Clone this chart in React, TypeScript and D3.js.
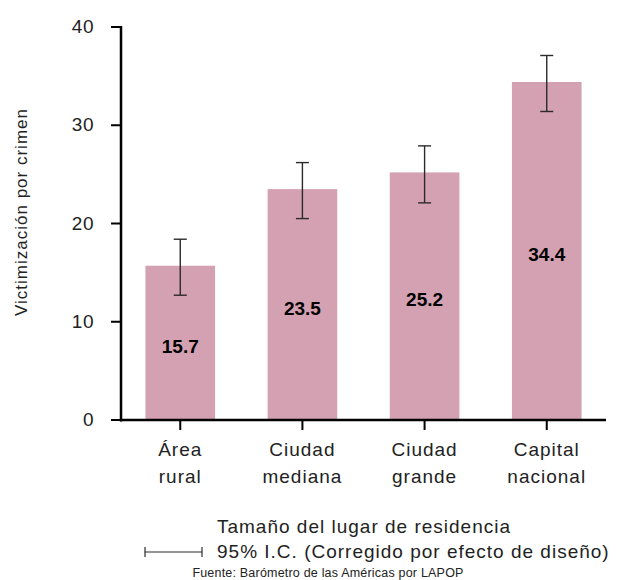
import React from "react";
import * as d3 from "d3";

const categories: string[][] = [
  ["Área", "rural"],
  ["Ciudad", "mediana"],
  ["Ciudad", "grande"],
  ["Capital", "nacional"],
];
const values: number[] = [15.7, 23.5, 25.2, 34.4];
const ciLow: number[] = [12.7, 20.5, 22.1, 31.4];
const ciHigh: number[] = [18.4, 26.2, 27.9, 37.1];
const yTicks: number[] = [0, 10, 20, 30, 40];

const W = 619;
const H = 580;
const FONT = "'Liberation Sans', Arial, Helvetica, sans-serif";

export default function App() {
  const left = 121;
  const right = 606;
  const top = 27;
  const bottom = 420;
  const ids = categories.map((_, i) => String(i));
  const x = d3.scaleBand<string>().domain(ids).range([left, right]).paddingInner(0.43).paddingOuter(0.2);
  const y = d3.scaleLinear().domain([0, 40]).range([bottom, top]);
  const bw = x.bandwidth();
  const cap = 6.5;

  return (
    <div style={{ position: "absolute", left: 0, top: 0 }}>
      <svg width={W} height={H} style={{ display: "block", fontFamily: FONT }}>
        <rect x={0} y={0} width={W} height={H} fill="#ffffff" />
        {/* bars */}
        {values.map((v, i) => (
          <rect key={"b" + i} x={x(ids[i])!} y={y(v)} width={bw} height={y(0) - y(v)} fill="#d3a1b1" />
        ))}
        {/* error bars */}
        {values.map((v, i) => {
          const cx = x(ids[i])! + bw / 2;
          return (
            <g key={"e" + i} stroke="#2b2b2b" strokeWidth={1.4}>
              <line x1={cx} x2={cx} y1={y(ciLow[i])} y2={y(ciHigh[i])} />
              <line x1={cx - cap} x2={cx + cap} y1={y(ciLow[i])} y2={y(ciLow[i])} />
              <line x1={cx - cap} x2={cx + cap} y1={y(ciHigh[i])} y2={y(ciHigh[i])} />
            </g>
          );
        })}
        {/* value labels */}
        {values.map((v, i) => (
          <text
            key={"l" + i}
            x={x(ids[i])! + bw / 2}
            y={y(v / 2) + 10}
            textAnchor="middle"
            fontSize={19}
            fontWeight="bold"
            fill="#000"
          >
            {v.toFixed(1)}
          </text>
        ))}
        {/* y axis */}
        <line x1={left} x2={left} y1={top - 1} y2={bottom + 1.5} stroke="#000" strokeWidth={2.5} />
        {yTicks.map((t) => (
          <g key={"yt" + t}>
            <line x1={left - 10} x2={left} y1={y(t)} y2={y(t)} stroke="#000" strokeWidth={2} />
            <text x={left - 27} y={y(t) + 6} textAnchor="end" fontSize={19} fill="#222" letterSpacing={0.5}>
              {t}
            </text>
          </g>
        ))}
        {/* x axis */}
        <line x1={left - 1} x2={right} y1={bottom} y2={bottom} stroke="#000" strokeWidth={2.5} />
        {categories.map((c, i) => {
          const cx = x(ids[i])! + bw / 2;
          return (
            <g key={"xt" + i}>
              <line x1={cx} x2={cx} y1={bottom} y2={bottom + 10} stroke="#000" strokeWidth={2} />
              {c.map((line, j) => (
                <text key={j} x={cx} y={bottom + 36 + j * 27} textAnchor="middle" fontSize={19} fill="#222" letterSpacing={1}>
                  {line}
                </text>
              ))}
            </g>
          );
        })}
        {/* y axis title */}
        <text
          transform={`translate(27, 212) rotate(-90)`}
          textAnchor="middle"
          fontSize={17}
          fill="#222"
          letterSpacing={1}
        >
          Victimización por crimen
        </text>
        {/* x axis title */}
        <text x={364} y={533} textAnchor="middle" fontSize={19} fill="#222" letterSpacing={1}>
          Tamaño del lugar de residencia
        </text>
        {/* legend */}
        <g stroke="#2b2b2b" strokeWidth={1.2}>
          <line x1={145} x2={202} y1={552} y2={552} />
          <line x1={145} x2={145} y1={547} y2={557} />
          <line x1={202} x2={202} y1={547} y2={557} />
        </g>
        <text x={217} y={558} fontSize={19} fill="#222" letterSpacing={1}>
          95% I.C. (Corregido por efecto de diseño)
        </text>
        <text x={328} y={577} textAnchor="middle" fontSize={12.5} fill="#222" letterSpacing={0.2}>
          Fuente: Barómetro de las Américas por LAPOP
        </text>
      </svg>
    </div>
  );
}
